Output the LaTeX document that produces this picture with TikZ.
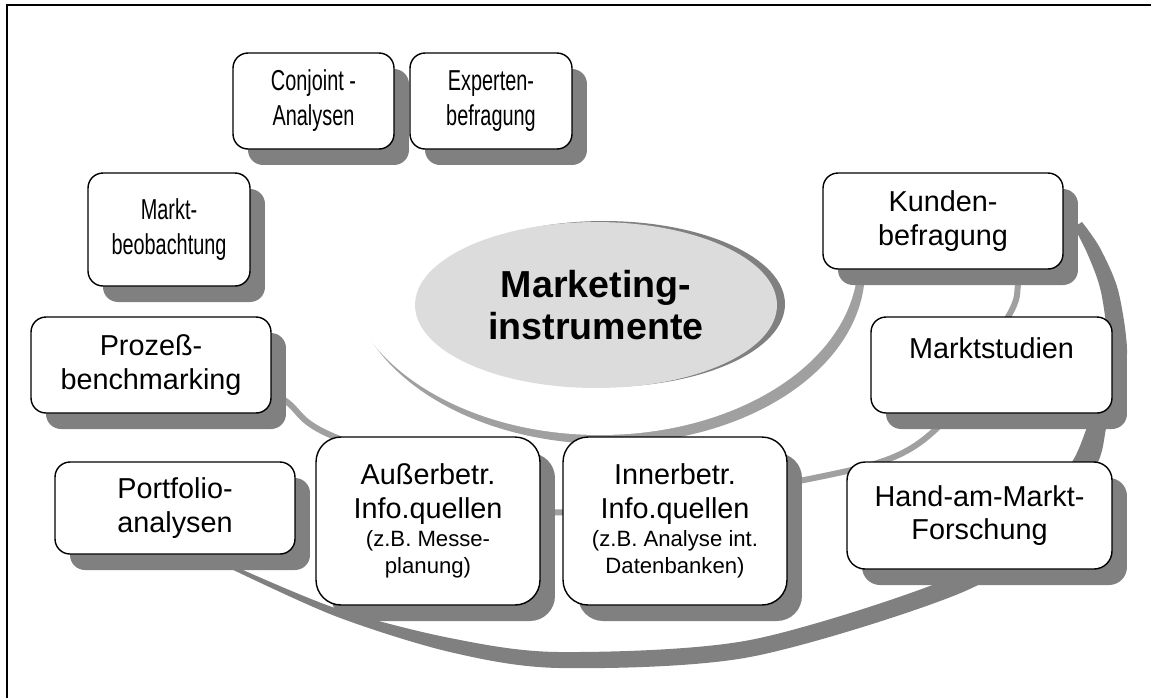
\documentclass[tikz,border=0pt]{standalone}
\usepackage{fontspec}
\usepackage{graphicx}
\setmainfont{Liberation Sans}
\usetikzlibrary{shapes.geometric,shadows}
\definecolor{shadowgray}{HTML}{808080}
\definecolor{ringlight}{HTML}{A0A0A0}
\definecolor{ringdark}{HTML}{808080}
\definecolor{corefill}{HTML}{DCDCDC}
\newcommand{\smalltxt}{\fontsize{12.6}{15.4}\selectfont}
\newcommand{\narrowtxt}[1]{\scalebox{0.69}[1]{#1}}

\tikzset{
  instr/.style={draw, line width=0.8pt, fill=white, rounded corners=0.3cm,
    align=center, inner sep=0pt, font=\fontsize{16.4}{19.3}\selectfont,
    drop shadow={shadow xshift=0.3cm, shadow yshift=-0.32cm, fill=shadowgray, opacity=1}},
  narrowinstr/.style={instr, font=\fontsize{16.4}{19.9}\selectfont},
  infobox/.style={instr, rounded corners=0.5cm, minimum width=4.48cm, minimum height=3.36cm},
  corenode/.style={ellipse, fill=corefill, inner sep=0pt, align=center,
    minimum width=7.24cm, minimum height=3.32cm,
    font=\bfseries\fontsize{21.4}{23.9}\selectfont,
    drop shadow={shadow xshift=0.16cm, shadow yshift=0.02cm, fill=shadowgray, opacity=1}}
}

\begin{document}
\begin{tikzpicture}[x=0.02cm, y=-0.02cm]
	\useasboundingbox (0,0) rectangle (1151,698);
	%frame
	\draw[line width=1.1pt] (7,698) -- (7,5) -- (1151,5);
	%bowl under the core
	\fill[ringlight] (607,270) ellipse [x radius=5.16cm, y radius=3.48cm];
	\fill[white] (600,261) ellipse [x radius=5.16cm, y radius=3.48cm];
	%middle ring
	\draw[ringlight, line width=0.12cm] plot[smooth] coordinates {(235,362) (287,402) (335,437) (551,512) (838,473) (935,430) (1008,317) (1018,285) (1020,250)};
	%outer ring
	\fill[ringdark] plot[smooth] coordinates {(225,566) (335,616) (450,652) (560,668) (750,657) (963,592) (1060,525) (1098,462) (1107,425) (1120,400) (1127,350) (1118,290) (1100,248) (1082,222)}
		-- plot[smooth] coordinates {(1074,227) (1088,255) (1101,292) (1108,350) (1100,400) (1088,425) (1072,462) (1030,518) (955,576) (750,640) (560,652) (450,638) (335,608) (225,562)} -- cycle;
	%boxes
	\node[narrowinstr, minimum width=3.22cm, minimum height=1.92cm] (conjoint) at (313.5,101) {\narrowtxt{Conjoint -}\\\narrowtxt{Analysen}};
	\node[narrowinstr, minimum width=3.24cm, minimum height=1.92cm] (experten) at (491,101) {\narrowtxt{Experten-}\\\narrowtxt{befragung}};
	\node[narrowinstr, minimum width=3.24cm, minimum height=2.26cm] (beob) at (169,229.5) {\narrowtxt{Markt-}\\\narrowtxt{beobachtung}};
	\node[instr, minimum width=4.8cm, minimum height=1.92cm] (kunden) at (943,221) {Kunden-\\befragung};
	\node[instr, minimum width=4.82cm, minimum height=1.92cm] (studien) at (991.5,365) {Marktstudien\\\mbox{}};
	\node[instr, minimum width=5.3cm, minimum height=2.14cm, rounded corners=0.36cm] (hand) at (979.5,515.5) {Hand-am-Markt-\\Forschung};
	\node[instr, minimum width=4.8cm, minimum height=1.92cm] (prozess) at (151,365) {Prozeß-\\benchmarking};
	\node[instr, minimum width=4.8cm, minimum height=1.84cm] (portfolio) at (175,508) {Portfolio-\\analysen};
	\node[infobox] (ausser) at (428,521) {Außerbetr.\\Info.quellen\\[-3.4pt]{\smalltxt (z.B. Messe-}\\[-4pt]{\smalltxt planung)}};
	\node[infobox] (inner) at (675,521) {Innerbetr.\\Info.quellen\\[-3.4pt]{\smalltxt (z.B. Analyse int.}\\[-4pt]{\smalltxt Datenbanken)}};
	%centre
	\node[corenode] (core) at (596,305) {Marketing-\\instrumente};
\end{tikzpicture}
\end{document}
